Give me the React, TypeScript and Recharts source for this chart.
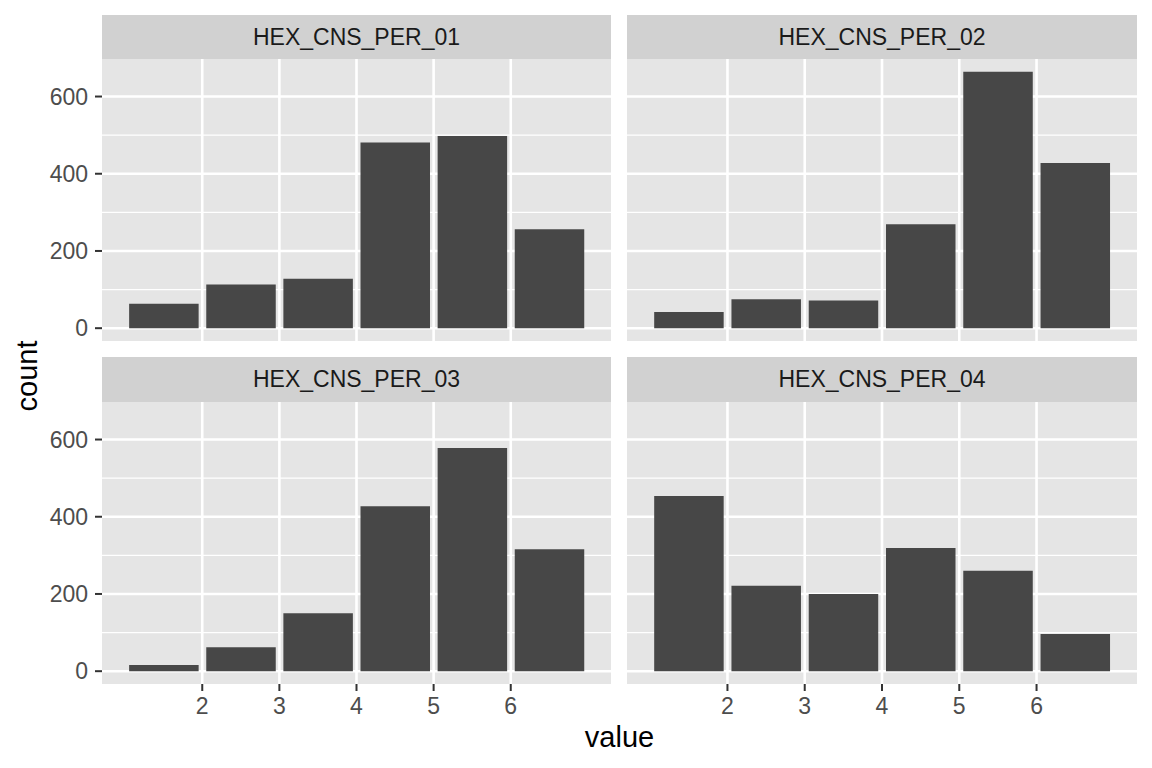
import { BarChart, Bar, XAxis, YAxis, CartesianGrid } from "recharts";

// bin centres (histogram of 1..7 answers, binwidth 1)
const binCenters = [1.5, 2.5, 3.5, 4.5, 5.5, 6.5];
const xTicks = [2, 3, 4, 5, 6];
const yTicks = [0, 200, 400, 600];
const yMinorTicks = [100, 300, 500];

const per01 = [63, 113, 128, 481, 498, 256];
const per02 = [42, 75, 72, 269, 664, 428];
const per03 = [16, 62, 150, 427, 578, 316];
const per04 = [454, 221, 200, 319, 260, 96];

const facetNames = ["HEX_CNS_PER_01", "HEX_CNS_PER_02", "HEX_CNS_PER_03", "HEX_CNS_PER_04"];
const facetCounts = [per01, per02, per03, per04];

const FONT = "'Liberation Sans', Arial, Helvetica, sans-serif";
const PANEL_BG = "#E5E5E5";
const STRIP_BG = "#D1D1D1";
const BAR = "#474747";

// ggplot-style 5% expansion
const maxCount = Math.max(...facetCounts.flat());
const yDomain = [-0.05 * maxCount, 1.05 * maxCount];
const xDomain = [0.7, 7.3];

const PANEL_H = 282;
const Y_AXIS_W = 102;
const X_AXIS_H = 40;

// panel geometry in page pixels
const cols = [
  { left: 102, width: 509 },
  { left: 627, width: 510 },
];
const rows = [
  { top: 59, stripTop: 14.5 },
  { top: 402, stripTop: 357 },
];

function Facet({ idx }: { idx: number }) {
  const col = idx % 2;
  const row = Math.floor(idx / 2);
  const showY = col === 0;
  const showX = row === 1;
  const data = binCenters.map((x, i) => ({ x, count: facetCounts[idx][i] }));
  const width = cols[col].width + (showY ? Y_AXIS_W : 0);
  const height = PANEL_H + (showX ? X_AXIS_H : 0);
  const left = cols[col].left - (showY ? Y_AXIS_W : 0);
  const tickStyle = { fill: "#4D4D4D", fontSize: 23, fontFamily: FONT };
  const tickLine = { stroke: "#333333", strokeWidth: 2 };
  return (
    <>
      <div
        style={{
          position: "absolute",
          left: cols[col].left,
          top: rows[row].stripTop,
          width: cols[col].width,
          height: 45,
          background: STRIP_BG,
          display: "flex",
          alignItems: "center",
          justifyContent: "center",
          fontFamily: FONT,
          fontSize: 23,
          color: "#1A1A1A",
        }}
      >
        {facetNames[idx]}
      </div>
      <div style={{ position: "absolute", left, top: rows[row].top }}>
        <BarChart width={width} height={height} data={data} margin={{ top: 0, right: 0, bottom: 0, left: 0 }}>
          <CartesianGrid
            fill={PANEL_BG}
            stroke="#FFFFFF"
            strokeWidth={2.6}
            horizontalValues={yTicks}
            verticalValues={xTicks}
          />
          <CartesianGrid fill="none" stroke="#FFFFFF" strokeWidth={1.3} vertical={false} horizontalValues={yMinorTicks} />
          <XAxis
            type="number"
            dataKey="x"
            domain={xDomain}
            ticks={xTicks}
            allowDataOverflow
            hide={!showX}
            height={X_AXIS_H}
            axisLine={false}
            tickLine={tickLine}
            tickSize={7}
            tickMargin={7}
            tick={tickStyle}
            interval={0}
          />
          <YAxis
            type="number"
            domain={yDomain}
            ticks={yTicks}
            allowDataOverflow
            hide={!showY}
            width={Y_AXIS_W}
            axisLine={false}
            tickLine={tickLine}
            tickSize={7}
            tickMargin={7}
            tick={tickStyle}
            interval={0}
          />
          <Bar dataKey="count" fill={BAR} barSize={69.5} isAnimationActive={false} />
        </BarChart>
      </div>
    </>
  );
}

export default function App() {
  return (
    <div style={{ position: "absolute", left: 0, top: 0, width: 1152, height: 768, background: "#FFFFFF" }}>
      {facetNames.map((_, i) => (
        <Facet key={i} idx={i} />
      ))}
      <svg width={1152} height={768} style={{ position: "absolute", left: 0, top: 0, pointerEvents: "none" }}>
        <text x={619.5} y={747} textAnchor="middle" fontFamily={FONT} fontSize={29} fill="#000000">
          value
        </text>
        <text transform="translate(37,376) rotate(-90)" textAnchor="middle" fontFamily={FONT} fontSize={29} fill="#000000">
          count
        </text>
      </svg>
    </div>
  );
}
